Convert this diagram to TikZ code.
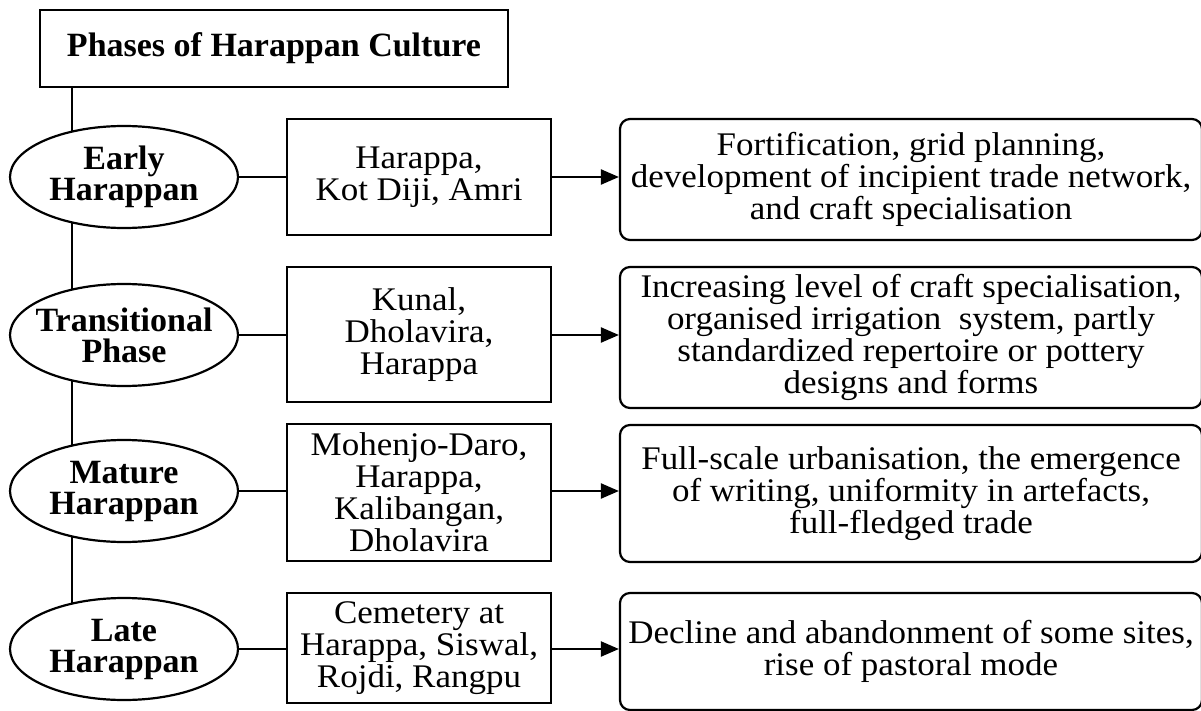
\documentclass[tikz,border=0pt]{standalone}
\usepackage{fontspec}
\setmainfont{Liberation Serif}
\newfontfamily\widefont[FakeStretch=1.06]{Liberation Serif}
\usetikzlibrary{shapes.geometric,arrows.meta,backgrounds}
\begin{document}
\begin{tikzpicture}[x=1pt,y=-1pt,line width=2.2pt,
  conn/.style={line width=2.2pt},
  titlebox/.style={rectangle,draw,fill=white,minimum width=468pt,minimum height=77pt,inner sep=0pt,font=\fontsize{34}{34}\selectfont\bfseries},
  phase/.style={ellipse,draw,fill=white,minimum width=228pt,minimum height=102pt,inner xsep=-40pt,inner ysep=-20pt,align=center,font=\fontsize{34}{31}\selectfont\bfseries},
  site/.style={rectangle,draw,fill=white,minimum width=264pt,inner sep=0pt,align=center,font=\widefont\fontsize{33}{32}\selectfont},
  feat/.style={rectangle,draw,fill=white,rounded corners=10pt,minimum width=582pt,inner sep=0pt,align=center,font=\widefont\fontsize{33}{32}\selectfont},
  arr/.style={conn,-{Triangle[length=18pt,width=15pt]}}
]
\useasboundingbox (0,0) rectangle (1201,711);

\node[titlebox] (title) at (274,48.5) {Phases of Harappan Culture};
\coordinate (spine) at (72,0);

\node[phase] (e1) at (124,177) {Early\\Harappan};
\node[phase] (e2) at (124,335) {Transitional\\Phase};
\node[phase] (e3) at (124,491) {Mature\\Harappan};
\node[phase] (e4) at (124,649) {Late\\Harappan};

\node[site,minimum height=116pt] (b1) at (419,177) {Harappa,\\Kot Diji, Amri};
\node[site,minimum height=135pt] (b2) at (419,334.5) {Kunal,\\Dholavira,\\Harappa};
\node[site,minimum height=137pt] (b3) at (419,492.5) {Mohenjo-Daro,\\Harappa,\\Kalibangan,\\Dholavira};
\node[site,minimum height=110pt] (b4) at (419,648) {Cemetery at\\Harappa, Siswal,\\Rojdi, Rangpu};

\node[feat,minimum height=121pt] (r1) at (911,179.5) {Fortification, grid planning,\\development of incipient trade network,\\and craft specialisation};
\node[feat,minimum height=141pt] (r2) at (911,337.5) {Increasing level of craft specialisation,\\organised irrigation\ \ system, partly\\standardized repertoire or pottery\\designs and forms};
\node[feat,minimum height=137pt] (r3) at (911,493.5) {Full-scale urbanisation, the emergence\\of writing, uniformity in artefacts,\\full-fledged trade};
\node[feat,minimum height=117pt] (r4) at (911,651.5) {Decline and abandonment of some sites,\\rise of pastoral mode};

\begin{scope}[on background layer]
\draw[conn] (title.south -| spine) -- (e4.center -| spine);
\end{scope}

\draw[conn] (e1.east) -- (e1.east -| b1.west);
\draw[conn] (e2.east) -- (e2.east -| b2.west);
\draw[conn] (e3.east) -- (e3.east -| b3.west);
\draw[conn] (e4.east) -- (e4.east -| b4.west);

\draw[arr] (e1.east -| b1.east) -- (e1.east -| r1.west);
\draw[arr] (e2.east -| b2.east) -- (e2.east -| r2.west);
\draw[arr] (e3.east -| b3.east) -- (e3.east -| r3.west);
\draw[arr] (e4.east -| b4.east) -- (e4.east -| r4.west);
\end{tikzpicture}
\end{document}
